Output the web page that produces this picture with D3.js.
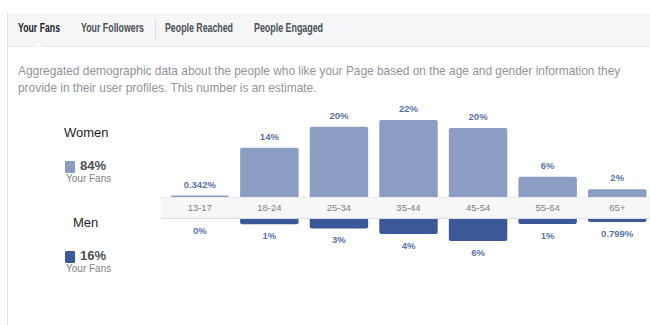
<!DOCTYPE html>
<html>
<head>
<meta charset="utf-8">
<script src="https://cdn.jsdelivr.net/npm/d3@7"></script>
<style>
  body { margin: 0; background: #fff; }
  svg { display: block; font-family: "Liberation Sans", Arial, sans-serif; }
</style>
</head>
<body>
<div id="chart"></div>
<script>
const ages = ["13-17", "18-24", "25-34", "35-44", "45-54", "55-64", "65+"];
const women = [0.342, 14.1, 20.1, 22.0, 19.7, 5.8, 2.2];
const womenLabels = ["0.342%", "14%", "20%", "22%", "20%", "6%", "2%"];
const men = [0, 1.5, 2.7, 4.3, 6.3, 1.4, 0.799];
const menLabels = ["0%", "1%", "3%", "4%", "6%", "1%", "0.799%"];
const tabs = ["Your Fans", "Your Followers", "People Reached", "People Engaged"];
const legend = [
  { name: "Women", value: "84%" },
  { name: "Men", value: "16%" }
];

const W = 650, H = 325;
const womenColor = "#8b9dc3", menColor = "#3b5998";

const svg = d3.select("#chart").append("svg")
  .attr("width", W).attr("height", H);

// page frame
svg.append("rect").attr("x", 7).attr("y", 13).attr("width", W - 7).attr("height", 34)
  .attr("fill", "#f5f6f7");
svg.append("line").attr("x1", 7).attr("x2", W).attr("y1", 46.5).attr("y2", 46.5)
  .attr("stroke", "#e3e5e8");
svg.append("line").attr("x1", 7.5).attr("x2", 7.5).attr("y1", 13).attr("y2", H)
  .attr("stroke", "#dddfe2");

// tabs (the screenshot font is narrow, so squeeze to the measured widths)
const tabX = [18, 81, 165, 254];
const tabW = [42, 63, 68, 69];
svg.selectAll(".tab").data(tabs).join("text")
  .attr("x", (d, i) => tabX[i]).attr("y", 32)
  .attr("font-size", 12).attr("font-weight", "bold")
  .attr("textLength", (d, i) => tabW[i]).attr("lengthAdjust", "spacingAndGlyphs")
  .attr("fill", (d, i) => i == 0 ? "#1d2129" : "#4b4f56")
  .text(d => d);
svg.append("line").attr("x1", 155.5).attr("x2", 155.5).attr("y1", 19).attr("y2", 40)
  .attr("stroke", "#dddfe2");
// caret under active tab
svg.append("path").attr("d", "M32,47 L38,41 L44,47 Z").attr("fill", "#fff")
  .attr("stroke", "#e3e5e8");
svg.append("rect").attr("x", 31).attr("y", 47).attr("width", 14).attr("height", 2).attr("fill", "#fff");

// description
const desc = [
  "Aggregated demographic data about the people who like your Page based on the age and gender information they",
  "provide in their user profiles. This number is an estimate."
];
svg.selectAll(".desc").data(desc).join("text")
  .attr("x", 18).attr("y", (d, i) => 75 + i * 17)
  .attr("font-size", 11.9).attr("fill", "#90949c")
  .text(d => d);

// bars
const x = d3.scaleBand().domain(ages).range([165, 652]).paddingInner(0.16).paddingOuter(0.08);
const y = d3.scaleLinear().domain([0, 22]).range([0, 77]);
const base = 197, bandBottom = 219;

function topRounded(x0, y0, w, h, r) {
  r = Math.min(r, h, w / 2);
  return `M${x0},${y0 + h} V${y0 + r} Q${x0},${y0} ${x0 + r},${y0} H${x0 + w - r} Q${x0 + w},${y0} ${x0 + w},${y0 + r} V${y0 + h} Z`;
}
function bottomRounded(x0, y0, w, h, r) {
  r = Math.min(r, h, w / 2);
  return `M${x0},${y0} H${x0 + w} V${y0 + h - r} Q${x0 + w},${y0 + h} ${x0 + w - r},${y0 + h} H${x0 + r} Q${x0},${y0 + h} ${x0},${y0 + h - r} Z`;
}

svg.selectAll(".w").data(ages).join("path")
  .attr("fill", womenColor)
  .attr("d", (d, i) => {
    const h = Math.max(y(women[i]), 1.5);
    return topRounded(x(d), base - h, x.bandwidth(), h + 2, 2);
  });

svg.selectAll(".m").data(ages).join("path")
  .attr("fill", menColor)
  .attr("d", (d, i) => {
    if (men[i] == 0) return null;
    const h = Math.max(y(men[i]), 3);
    return bottomRounded(x(d), bandBottom - 4, x.bandwidth(), h + 4, 2);
  });

// axis band
svg.append("rect").attr("x", 161).attr("y", base).attr("width", W - 161).attr("height", bandBottom - base)
  .attr("fill", "#f6f7f9");
svg.append("line").attr("x1", 161).attr("x2", W).attr("y1", base + 0.5).attr("y2", base + 0.5)
  .attr("stroke", "#e9ebee");
svg.append("line").attr("x1", 161).attr("x2", W).attr("y1", bandBottom - 0.5).attr("y2", bandBottom - 0.5)
  .attr("stroke", "#dddfe2");

const axis = svg.append("g").attr("transform", `translate(0,${(base + bandBottom) / 2})`)
  .call(d3.axisBottom(x).tickSize(0).tickPadding(0));
axis.select(".domain").remove();
axis.selectAll("text").attr("dy", "0.35em").attr("font-size", 9.5)
  .attr("font-family", "Liberation Sans, Arial, sans-serif").attr("fill", "#7f7f7f");

// value labels
svg.selectAll(".wl").data(ages).join("text")
  .attr("x", d => x(d) + x.bandwidth() / 2)
  .attr("y", (d, i) => base - Math.max(y(women[i]), 1.5) - 8)
  .attr("text-anchor", "middle").attr("font-size", 9.5).attr("font-weight", "bold")
  .attr("fill", "#5a72a8").text((d, i) => womenLabels[i]);

svg.selectAll(".ml").data(ages).join("text")
  .attr("x", d => x(d) + x.bandwidth() / 2)
  .attr("y", (d, i) => bandBottom + (men[i] == 0 ? 0 : Math.max(y(men[i]), 3)) + 15)
  .attr("text-anchor", "middle").attr("font-size", 9.5).attr("font-weight", "bold")
  .attr("fill", "#5a72a8").text((d, i) => menLabels[i]);

// legend
const lg = svg.selectAll(".lg").data(legend).join("g")
  .attr("transform", (d, i) => `translate(0,${i * 90})`);
lg.append("text").attr("x", (d, i) => i == 0 ? 64 : 73).attr("y", 137)
  .attr("font-size", 13).attr("fill", "#1d2129").text(d => d.name);
lg.append("rect").attr("x", 65).attr("y", 161).attr("width", 10).attr("height", 12).attr("rx", 1)
  .attr("fill", (d, i) => i == 0 ? womenColor : menColor);
lg.append("text").attr("x", 80).attr("y", 170)
  .attr("font-size", 13).attr("font-weight", "bold").attr("fill", "#4b4f56").text(d => d.value);
lg.append("text").attr("x", 66).attr("y", 182)
  .attr("font-size", 10).attr("fill", "#7f7f7f").text("Your Fans");
</script>
</body>
</html>
